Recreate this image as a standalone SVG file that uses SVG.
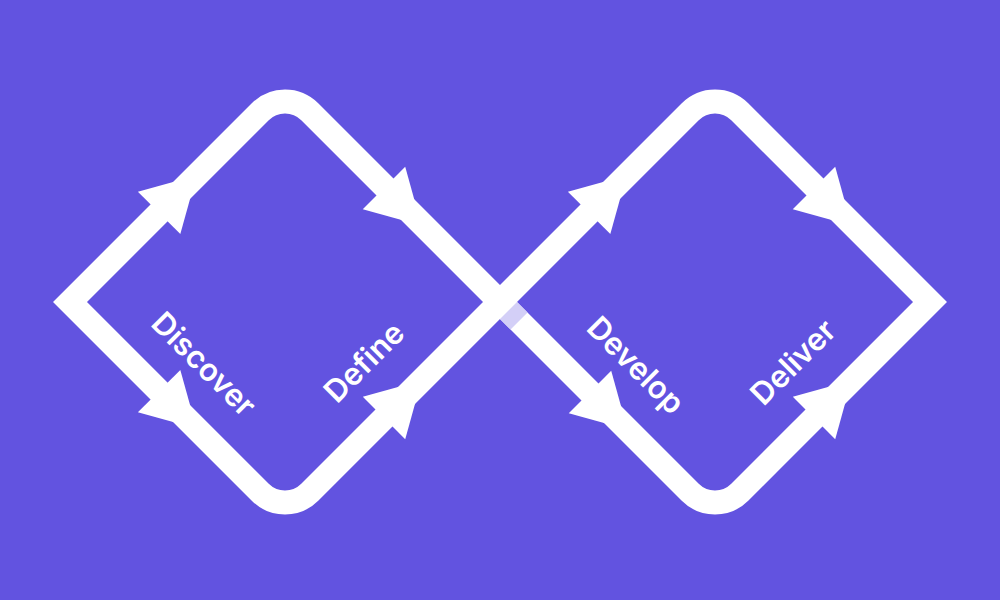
<svg xmlns="http://www.w3.org/2000/svg" width="1000" height="600" viewBox="0 0 1000 600">
  <style>
    .loop { fill: none; stroke: #ffffff; stroke-width: 24; stroke-linejoin: miter; stroke-miterlimit: 4; }
    .arrow { fill: #ffffff; }
    .label { fill: #ffffff; font-family: Inter, "Noto Sans", "Liberation Sans", sans-serif; font-weight: 600; font-size: 31px; text-anchor: middle; }
  </style>
  <defs>
    <path id="arrowhead" d="M0,-30 L53,0 L0,30 Z"/>
  </defs>
  <rect x="0" y="0" width="1000" height="600" fill="#6253E0"/>
  <g id="connectors">
    <path class="loop" d="M70,302 L260.25,111.75 A35,35 0 0 1 309.75,111.75 L690.25,492.25 A35,35 0 0 0 739.75,492.25 L930,302 L739.75,111.75 A35,35 0 0 0 690.25,111.75 L309.75,492.25 A35,35 0 0 1 260.25,492.25 Z"/>
    <polygon fill="#D3CFF7" points="516.97,302 500,318.97 510.6,329.58 527.58,312.6"/>
    <use href="#arrowhead" class="arrow" transform="translate(159.1,212.9) rotate(-45)"/>
    <use href="#arrowhead" class="arrow" transform="translate(159.1,391.1) rotate(45)"/>
    <use href="#arrowhead" class="arrow" transform="translate(384,188) rotate(45)"/>
    <use href="#arrowhead" class="arrow" transform="translate(384,418) rotate(-45)"/>
    <use href="#arrowhead" class="arrow" transform="translate(589.1,212.9) rotate(-45)"/>
    <use href="#arrowhead" class="arrow" transform="translate(590,392) rotate(45)"/>
    <use href="#arrowhead" class="arrow" transform="translate(814,188) rotate(45)"/>
    <use href="#arrowhead" class="arrow" transform="translate(814,418) rotate(-45)"/>
  </g>
  <g id="discover">
    <text class="label" transform="translate(204,364) rotate(45)" y="11">Discover</text>
  </g>
  <g id="define">
    <text class="label" transform="translate(364,362) rotate(-45)" y="11">Define</text>
  </g>
  <g id="develop">
    <text class="label" transform="translate(636,365) rotate(45)" y="11">Develop</text>
  </g>
  <g id="deliver">
    <text class="label" transform="translate(793,362) rotate(-45)" y="11">Deliver</text>
  </g>
</svg>
